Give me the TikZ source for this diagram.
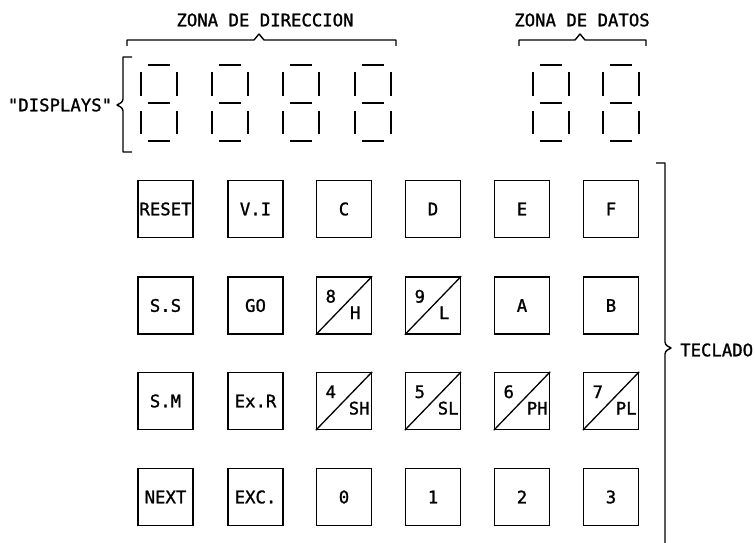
\documentclass[tikz,border=0pt]{standalone}
\usepackage{fontspec}
\newfontfamily\plot{DejaVu Sans Mono}[FakeBold=1.2]
\newcommand\fs{\plot\fontsize{17.3}{20}\selectfont}
\newcommand\sevenseg[1]{%
  \draw[seg] (#1+7,65)--(#1+29,65);
  \draw[seg] (#1+7,103)--(#1+29,103);
  \draw[seg] (#1+7,141)--(#1+29,141);
  \draw[seg] (#1,72)--(#1,96);
  \draw[seg] (#1+36,72)--(#1+36,96);
  \draw[seg] (#1,111)--(#1,134);
  \draw[seg] (#1+36,111)--(#1+36,134);
}
\tikzset{
  seg/.style={line width=1.6pt},
  brk/.style={line width=1.4pt, line join=round},
  key/.style={draw, line width=1.4pt, minimum width=55pt, minimum height=57pt, inner sep=0pt, font=\fs},
  diag/.style={line width=1.3pt},
  lbl/.style={inner sep=0pt, font=\fs},
}
\begin{document}
\begin{tikzpicture}[x=1pt,y=-1pt]
\useasboundingbox (0,0) rectangle (755,543);
% titles
\node[lbl] (zd) at (265,20) {ZONA DE DIRECCION};
\node[lbl] (zt) at (582,20) {ZONA DE DATOS};
\node[lbl] (disp) at (60,105) {"DISPLAYS"};
\node[lbl,anchor=west] (tec) at (680,350) {TECLADO};
% brackets
\draw[brk] (127,46)--(127,40)--(254,40)--(259,34)--(264,40)--(396,40)--(396,46);
\draw[brk] (519,46)--(519,40)--(575,40)--(580,34)--(585,40)--(646,40)--(646,46);
\draw[brk] (132,57)--(123,57)--(123,99) .. controls (123,103) and (118,104) .. (117,105)
  .. controls (118,106) and (123,107) .. (123,111)--(123,152)--(132,152);
\draw[brk] (656,163)--(665,163)--(665,342) .. controls (665,346) and (670,347) .. (671,348)
  .. controls (670,349) and (665,350) .. (665,354)--(665,543);
% displays
\sevenseg{141}
\sevenseg{212}
\sevenseg{283}
\sevenseg{355}
\sevenseg{533}
\sevenseg{603}
% keys row 1
\node[key] (reset) at (165.5,209) {RESET};
\node[key] (vi) at (255.5,209) {V.I};
\node[key] (kc) at (344,209) {C};
\node[key] (kd) at (433,209) {D};
\node[key] (ke) at (522,209) {E};
\node[key] (kf) at (611,209) {F};
% row 2
\node[key] (ss) at (165.5,305.5) {S.S};
\node[key] (go) at (255.5,305.5) {GO};
\node[key] (k8) at (344,305.5) {};
\node[key] (k9) at (433,305.5) {};
\node[key] (ka) at (522,305.5) {A};
\node[key] (kb) at (611,305.5) {B};
% row 3
\node[key] (sm) at (165.5,401) {S.M};
\node[key] (exr) at (255.5,401) {Ex.R};
\node[key] (k4) at (344,401) {};
\node[key] (k5) at (433,401) {};
\node[key] (k6) at (522,401) {};
\node[key] (k7) at (611,401) {};
% row 4
\node[key] (next) at (165.5,497) {NEXT};
\node[key] (exc) at (255.5,497) {EXC.};
\node[key] (k0) at (344,497) {0};
\node[key] (k1) at (433,497) {1};
\node[key] (k2) at (522,497) {2};
\node[key] (k3) at (611,497) {3};
% split keys
\foreach \k/\n/\s/\dx in {k8/8/H/17, k9/9/L/17, k4/4/SH/13, k5/5/SL/13, k6/6/PH/13, k7/7/PL/13}{
  \draw[diag] (\k.south west) -- (\k.north east);
  \node[lbl] (\k n) at ([xshift=15pt,yshift=-20pt]\k.north west) {\n};
  \node[lbl] (\k s) at ([xshift=-\dx pt,yshift=22pt]\k.south east) {\s};
}
\end{tikzpicture}
\end{document}
